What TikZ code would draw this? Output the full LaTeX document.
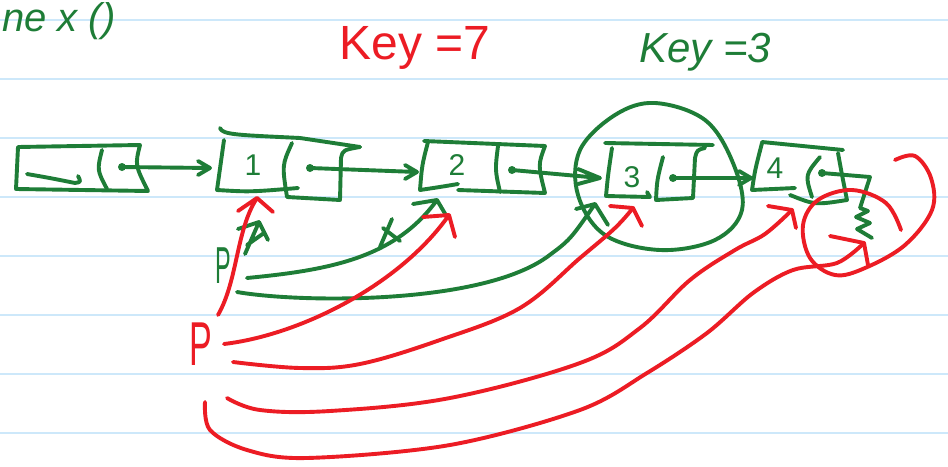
\documentclass[tikz,border=0pt]{standalone}
\usepackage{fontspec}
\setmainfont{Liberation Sans}
\definecolor{gcol}{RGB}{30,125,55}
\definecolor{rcol}{RGB}{236,28,36}
\definecolor{rulecol}{RGB}{205,232,250}
\begin{document}
\begin{tikzpicture}[x=1pt,y=-1pt,
  gp/.style={draw=gcol,line width=3.9pt,line cap=round,line join=round},
  rp/.style={draw=rcol,line width=3.9pt,line cap=round,line join=round},
  gt/.style={text=gcol,inner sep=0pt},
  rt/.style={text=rcol,inner sep=0pt},
  dotg/.style={circle,fill=gcol,inner sep=0pt,minimum size=8pt}]
\useasboundingbox (0,0) rectangle (948,466);
\clip (0,0) rectangle (948,466);
\fill[white] (0,0) rectangle (948,466);
\foreach \y in {20,79,138,197,256,315,374,433}
  \draw[rulecol,line width=1.3pt] (0,\y) -- (948,\y);

% ---------- texts ----------
\node[gt,anchor=base west,font=\fontsize{40}{40}\selectfont\itshape] (title) at (2,31) {ne x ()};
\node[rt,font=\fontsize{48}{48}\selectfont] (key7) at (415,48) {Key =7};
\node[gt,font=\fontsize{42}{42}\selectfont\itshape] (key3) at (705,52) {Key =3};
\node[rt,font=\fontsize{62}{62}\selectfont] (pred) at (201,344) {\scalebox{0.55}[1]{P}};
\node[gt,font=\fontsize{52}{52}\selectfont] (pgreen) at (223,266) {\scalebox{0.45}[1]{P}};

% ---------- node 0 ----------
\draw[gp] (18,147) -- (140,145) .. controls (135,165) .. (148,191) -- (16,189) -- cycle;
\draw[gp] (102,150) .. controls (97,170) .. (107,189);
\draw[gp] (27,174) .. controls (50,178) .. (75,183) .. controls (81,182) .. (78,176);
\node[dotg] (d0) at (122,167) {};

% ---------- node 1 ----------
\draw[gp] (220,128) .. controls (222,135) and (240,135) .. (300,138) -- (360,147);
\draw[gp] (224,140) -- (217,190) .. controls (250,192) .. (298,188);
\draw[gp] (292,143) .. controls (282,165) .. (287,197) -- (340,200) -- (341,158) .. controls (343,150) .. (360,147);
\node[gt,font=\fontsize{30}{30}\selectfont] (v1) at (253,165) {1};
\node[dotg] (d1) at (310,168) {};
\coordinate (t1) at (210,168);

% ---------- node 2 ----------
\draw[gp] (424,141) -- (545,146) .. controls (538,165) .. (545,193) -- (458,190);
\draw[gp] (428,142) .. controls (422,165) .. (420,190) .. controls (440,187) .. (458,184);
\draw[gp] (498,146) .. controls (495,170) .. (500,192);
\node[gt,font=\fontsize{30}{30}\selectfont] (v2) at (457,165) {2};
\node[dotg] (d2) at (512,170) {};
\coordinate (t2) at (417,172);

% ---------- node 3 ----------
\draw[gp] (605,143) -- (713,145);
\draw[gp] (612,148) .. controls (608,175) .. (606,196) -- (650,197) -- (647,192);
\draw[gp] (663,157) .. controls (657,180) .. (656,200) -- (693,198) -- (695,158) .. controls (697,150) .. (705,148);
\node[gt,font=\fontsize{30}{30}\selectfont] (v3) at (632,177) {3};
\node[dotg] (d3) at (673,178) {};
\coordinate (t3) at (600,178);
\draw[gp] plot[smooth cycle,tension=0.6] coordinates {(655,103) (705,120) (733,163) (742,210) (715,240) (660,250) (605,235) (578,195) (580,150) (615,115)};

% ---------- node 4 ----------
\draw[gp] (762,142) -- (843,150);
\draw[gp] (762,143) .. controls (755,170) .. (752,190) -- (795,188);
\draw[gp] (820,157) .. controls (805,175) .. (812,197);
\draw[gp] (838,153) .. controls (842,175) .. (847,200) .. controls (815,205) .. (790,195);
\node[gt,font=\fontsize{30}{30}\selectfont] (v4) at (775,168) {4};
\node[dotg] (d4) at (822,173) {};
\coordinate (t4) at (751,178);
\coordinate (nullend) at (860,208);
\draw[gp] (d4.center) -- (870,177) -- (nullend) -- (868,211) -- (856,217) -- (870,223) -- (857,229) -- (872,238);

% ---------- next pointers ----------
\draw[gp] (d0.center) -- (t1) (198,161) -- (t1) -- (198,175);
\draw[gp] (d1.center) -- (t2) (405,165) -- (t2) -- (405,179);
\draw[gp] (d2.center) -- (t3) (578,169) -- (t3) -- (578,184);
\draw[gp] (d3.center) -- (t4) (739,171) -- (t4) -- (739,185);

% ---------- green p pointers ----------
\coordinate (gp1) at (259,222);
\draw[gp] (245,254) -- (gp1) (238,229) -- (gp1) -- (268,240) (247,245) -- (264,233);
\coordinate (gp2) at (437,200);
\draw[gp] (247,278) .. controls (330,270) and (395,258) .. (gp2) (413,204) -- (gp2) -- (447,217);
\draw[gp] (380,247) -- (392,219) (383,228) -- (400,241);
\coordinate (gp3) at (595,204);
\draw[gp] (237,292) .. controls (300,303) and (480,305) .. (547,257) .. controls (570,240) .. (gp3) (576,209) -- (gp3) -- (608,225);

% ---------- red p pointers ----------
\coordinate (rp1) at (257,198);
\draw[rp] (218,315) .. controls (238,280) and (236,230) .. (rp1) (238,211) -- (rp1) -- (273,212);
\coordinate (rp2) at (449,215);
\draw[rp] (224,344) .. controls (300,335) and (400,285) .. (rp2) (423,217) -- (rp2) -- (455,237);
\coordinate (rp3) at (633,208);
\draw[rp] plot[smooth,tension=0.6] coordinates {(233,362) (300,368) (360,364) (440,340) (520,308) (580,258) (615,228) (rp3)};
\draw[rp] (610,206) -- (rp3) -- (642,226);
\coordinate (rp4) at (792,210);
\draw[rp] plot[smooth,tension=0.6] coordinates {(227,398) (260,410) (330,411) (450,398) (580,363) (640,328) (690,280) (735,250) (765,234) (rp4)};
\draw[rp] (768,206) -- (rp4) -- (796,228);
\coordinate (rp5) at (864,243);
\draw[rp] plot[smooth,tension=0.55] coordinates {(205,402) (210,430) (247,450) (307,458) (450,445) (580,410) (647,373) (707,333) (753,293) (793,270) (837,263) (rp5)};
\draw[rp] (830,236) -- (rp5) -- (868,265);
\draw[rp] plot[smooth,tension=0.6] coordinates {(895,160) (915,156) (931,178) (932,210) (905,245) (865,268) (835,275) (810,258) (803,225) (818,200) (852,190) (886,203) (901,230)};
\end{tikzpicture}
\end{document}
